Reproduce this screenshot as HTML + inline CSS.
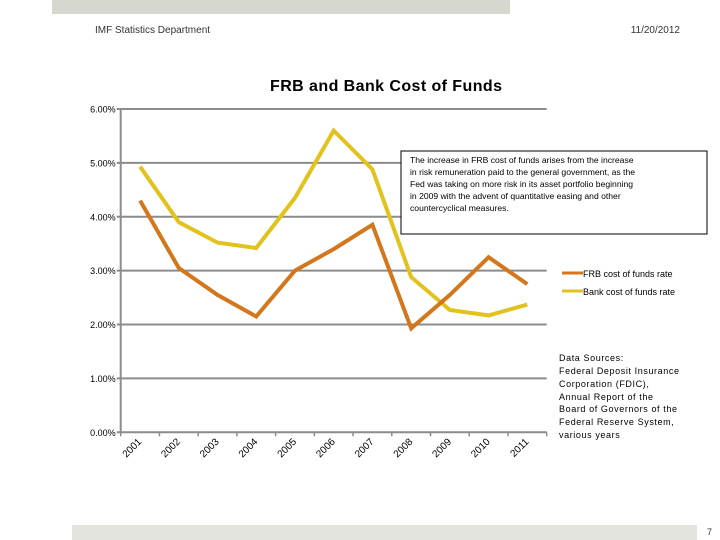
<!DOCTYPE html>
<html><head><meta charset="utf-8"><style>
body{margin:0;background:#fff;width:720px;height:540px;overflow:hidden;font-family:"Liberation Sans",sans-serif}
svg{display:block}
</style></head><body>
<svg id="c" width="720" height="540" font-family="Liberation Sans, sans-serif">
<rect x="52" y="0" width="458" height="14" fill="#d6d8cf"/>
<rect x="72" y="525" width="625" height="15" fill="#e4e4de"/>
<text x="95" y="33" font-size="10" fill="#333">IMF Statistics Department</text>
<text x="680" y="33" font-size="10" fill="#333" text-anchor="end">11/20/2012</text>
<text x="386" y="91" font-size="16" font-weight="bold" text-anchor="middle" textLength="232">FRB and Bank Cost of Funds</text>
<text x="707" y="535" font-size="9" fill="#333">7</text>
<g id="grid"></g><g id="lines"></g>
<rect x="401" y="151" width="306" height="83" fill="#fff" stroke="#000" stroke-width="1"/>
<text font-size="8.6" fill="#000">
<tspan x="410" y="163">The increase in FRB cost of funds arises from the increase</tspan>
<tspan x="410" y="175">in risk remuneration paid to the general government, as the</tspan>
<tspan x="410" y="187">Fed was taking on more risk in its asset portfolio beginning</tspan>
<tspan x="410" y="199">in 2009 with the advent of quantitative easing and other</tspan>
<tspan x="410" y="211">countercyclical measures.</tspan></text>
<g>
<line x1="562" y1="273" x2="583" y2="273" stroke="#d4771c" stroke-width="3"/>
<text x="583" y="277" font-size="9">FRB cost of funds rate</text>
<line x1="562" y1="291" x2="583" y2="291" stroke="#e2c21d" stroke-width="3"/>
<text x="583" y="295" font-size="9">Bank cost of funds rate</text>
</g>
<text font-size="9" fill="#000" letter-spacing="0.6">
<tspan x="559" y="361">Data Sources:</tspan>
<tspan x="559" y="374">Federal Deposit Insurance</tspan>
<tspan x="559" y="387">Corporation (FDIC),</tspan>
<tspan x="559" y="400">Annual Report of the</tspan>
<tspan x="559" y="412">Board of Governors of the</tspan>
<tspan x="559" y="425">Federal Reserve System,</tspan>
<tspan x="559" y="438">various years</tspan></text>
</svg>
<script>
const years=["2001","2002","2003","2004","2005","2006","2007","2008","2009","2010","2011"];
const frb=[4.3,3.05,2.55,2.15,3.0,3.4,3.85,1.93,2.55,3.25,2.75];
const bank=[4.93,3.9,3.52,3.42,4.35,5.6,4.88,2.88,2.27,2.17,2.37];
const yTicks=[0,1,2,3,4,5,6];
const NS="http://www.w3.org/2000/svg";
const X0=120.7,X1=546.7,Y0=432.3,Y6=109;
const step=(X1-X0)/years.length;
function xs(i){return X0+step*(i+0.5);}
function ys(v){return Y0-(v/6)*(Y0-Y6);}
function mk(t,a,p){const e=document.createElementNS(NS,t);for(const k in a)e.setAttribute(k,a[k]);p.appendChild(e);return e;}
const g=document.getElementById('grid'),L=document.getElementById('lines');
yTicks.forEach(t=>{
 const y=ys(t);
 const ln=mk('line',{x1:X0-4,x2:X1,y1:y,y2:y,stroke:'#8c8c8c','stroke-width':2},g);
 
 
 const tx=mk('text',{x:X0-5,y:y+3.5,'font-size':9,'text-anchor':'end'},g);
 tx.textContent=t.toFixed(2)+'%';
 
 
});
const ax=mk('line',{x1:X0,x2:X0,y1:Y6,y2:Y0,stroke:'#8c8c8c','stroke-width':2},g);


for(let i=0;i<=years.length;i++){
 const x=X0+step*i;
 const tk=mk('line',{x1:x,x2:x,y1:Y0,y2:Y0+4,stroke:'#8c8c8c','stroke-width':1.5},g);
 
 
}
years.forEach((yr,i)=>{
 const x=xs(i)+2,y=Y0+10;
 const t=mk('text',{x:x,y:y,'font-size':10,'text-anchor':'end',transform:`rotate(-45 ${x} ${y})`},g);
 t.textContent=yr;
 
 
});
function series(vals,col,name){
 const pts=vals.map((v,i)=>xs(i).toFixed(1)+','+ys(v).toFixed(1)).join(' ');
 const p=mk('polyline',{points:pts,fill:'none',stroke:col,'stroke-width':4,'stroke-linejoin':'miter'},L);
 
 
}
series(bank,'#e2c21d','bank-cost-line');
series(frb,'#d4771c','frb-cost-line');
</script>
</body></html>
